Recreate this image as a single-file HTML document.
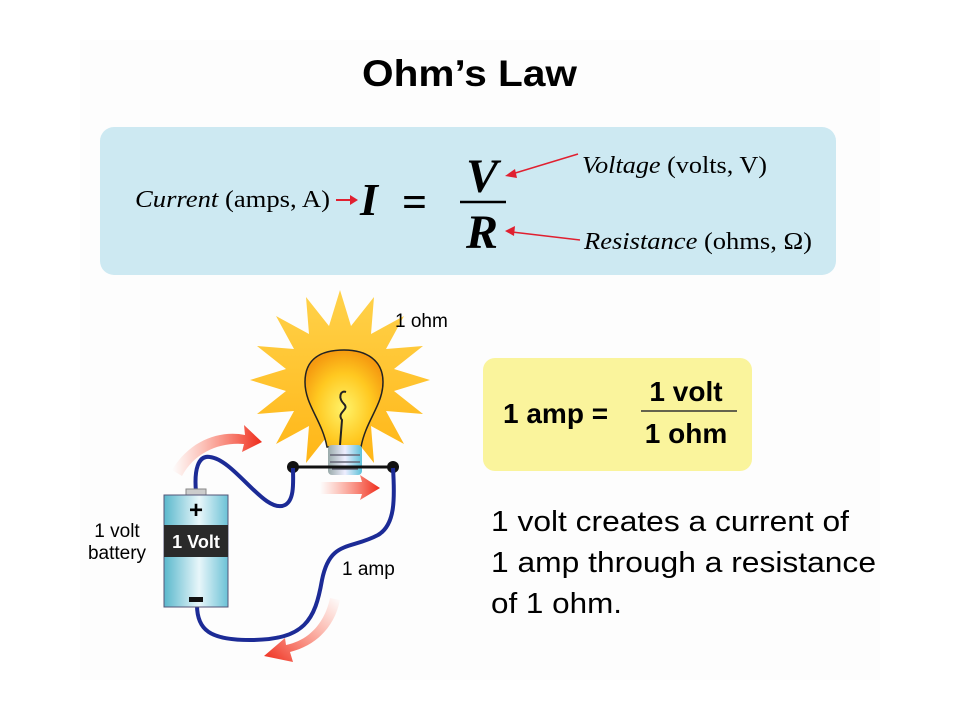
<!DOCTYPE html>
<html><head><meta charset="utf-8"><style>
body{margin:0;background:#fff;}
svg{display:block;font-family:"Liberation Sans",sans-serif;}
.serif{font-family:"Liberation Serif",serif;}
</style></head><body>
<svg width="960" height="720" viewBox="0 0 960 720">
<defs>
<radialGradient id="bulb" cx="0.5" cy="0.6" r="0.6"><stop offset="0" stop-color="#fff36a"/><stop offset="0.6" stop-color="#ffc820"/><stop offset="1" stop-color="#f59a10"/></radialGradient>
<linearGradient id="star" x1="0" y1="0" x2="0" y2="1"><stop offset="0" stop-color="#ffd24a"/><stop offset="1" stop-color="#ffb515"/></linearGradient>
<linearGradient id="bat" x1="0" x2="1"><stop offset="0" stop-color="#5ab8cc"/><stop offset="0.55" stop-color="#e8f6fa"/><stop offset="1" stop-color="#6cc2d6"/></linearGradient>
<linearGradient id="base" x1="0" x2="1"><stop offset="0" stop-color="#9aa"/><stop offset="0.5" stop-color="#eef"/><stop offset="1" stop-color="#5bc0d8"/></linearGradient>
<linearGradient id="ar1" x1="0" x2="1"><stop offset="0" stop-color="#ff6040" stop-opacity="0"/><stop offset="1" stop-color="#ee2a1a"/></linearGradient>
<linearGradient id="ar3" x1="1" y1="0" x2="0" y2="1"><stop offset="0" stop-color="#ff6040" stop-opacity="0"/><stop offset="1" stop-color="#ee2a1a"/></linearGradient>
</defs>
<rect x="80" y="40" width="800" height="640" fill="#fdfdfd"/>
<text x="362" y="86" font-size="37" font-weight="bold" textLength="215" lengthAdjust="spacingAndGlyphs">Ohm’s Law</text>
<rect x="100" y="127" width="736" height="148" rx="14" fill="#cde9f2"/>
<g class="serif">
<text x="135" y="207" font-size="24" textLength="195" lengthAdjust="spacingAndGlyphs"><tspan font-style="italic">Current</tspan> (amps, A)</text>
<line x1="336" y1="200" x2="352" y2="200" stroke="#e02030" stroke-width="2"/><polygon points="358,200 350,195 350,205" fill="#e02030"/>
<text x="360" y="215" font-size="46" font-weight="bold" font-style="italic">I</text>
<text x="402" y="217" font-size="44" font-weight="bold">=</text>
<line x1="460" y1="202" x2="506" y2="202" stroke="#000" stroke-width="2.5"/>
<text x="482" y="192" font-size="48" font-weight="bold" font-style="italic" text-anchor="middle">V</text>
<text x="482" y="248" font-size="48" font-weight="bold" font-style="italic" text-anchor="middle">R</text>
<line x1="512" y1="174" x2="578" y2="154" stroke="#e02030" stroke-width="1.5"/><polygon points="505,176 515,169 517,178" fill="#e02030"/>
<line x1="512" y1="232" x2="580" y2="240" stroke="#e02030" stroke-width="1.5"/><polygon points="505,231 515,226 514,236" fill="#e02030"/>
<text x="582" y="173" font-size="24" textLength="185" lengthAdjust="spacingAndGlyphs"><tspan font-style="italic">Voltage</tspan> (volts, V)</text>
<text x="584" y="249" font-size="24" textLength="228" lengthAdjust="spacingAndGlyphs"><tspan font-style="italic">Resistance</tspan> (ohms, Ω)</text>
</g>
<!-- star -->
<polygon fill="url(#star)" points="430,380 394,369 423,346 386,349 404,316 371,334 374,297 351,326 340,290 329,326 306,297 309,334 276,316 294,349 257,346 286,369 250,380 286,391 257,414 294,411 276,444 309,426 306,463 329,434 340,470 351,434 374,463 371,426 404,444 386,411 423,414 394,391"/>
<path d="M327,447 C322,420 305,405 305,382 C305,358 322,350 344,350 C366,350 383,360 383,382 C383,405 366,420 361,447 Z" fill="url(#bulb)" stroke="#222" stroke-width="1.5"/>
<path d="M340,445 L342,420 C336,412 350,410 344,404 C338,398 340,390 346,392" fill="none" stroke="#222" stroke-width="2"/>
<rect x="328" y="445" width="34" height="30" rx="4" fill="url(#base)"/>
<g stroke="#667" stroke-width="1.5"><line x1="330" y1="455" x2="360" y2="455"/><line x1="330" y1="462" x2="360" y2="462"/><line x1="332" y1="469" x2="358" y2="469"/></g>
<line x1="293" y1="467" x2="393" y2="467" stroke="#111" stroke-width="3"/>
<circle cx="293" cy="467" r="6" fill="#111"/><circle cx="393" cy="467" r="6" fill="#111"/>
<!-- wire -->
<path d="M196,492 C194,470 198,455 210,457 C235,460 265,515 285,505 C295,500 293,480 293,468" fill="none" stroke="#1c2b96" stroke-width="4"/>
<path d="M393,468 C395,500 395,525 378,535 C350,550 330,540 322,580 C315,620 305,640 250,640 C210,640 197,630 197,605" fill="none" stroke="#1c2b96" stroke-width="4"/>
<!-- battery -->
<rect x="186" y="489" width="20" height="6" fill="#ccc" stroke="#888"/>
<rect x="164" y="495" width="64" height="112" fill="url(#bat)" stroke="#557" stroke-width="1"/>
<rect x="164" y="525" width="64" height="32" fill="#2a2a2a"/>
<text x="196" y="548" font-size="18" font-weight="bold" fill="#fff" text-anchor="middle">1 Volt</text>
<text x="196" y="518" font-size="24" font-weight="bold" text-anchor="middle">+</text>
<rect x="189" y="597" width="14" height="5" fill="#111"/>
<!-- red arrows -->
<path d="M172,470 C190,440 220,430 245,435 L244,425 L262,442 L242,452 L244,444 C220,442 195,452 182,476 Z" fill="url(#ar1)"/>
<path d="M320,482 L362,482 L360,475 L380,488 L360,500 L362,494 L320,494 Z" fill="url(#ar1)"/>
<path d="M340,600 C335,625 318,645 290,652 L293,662 L264,656 L285,638 L286,645 C310,640 325,622 330,598 Z" fill="url(#ar3)"/>
<text x="395" y="327" font-size="19">1 ohm</text>
<text x="117" y="537" font-size="19" text-anchor="middle">1 volt</text>
<text x="117" y="559" font-size="19" text-anchor="middle">battery</text>
<text x="342" y="575" font-size="19">1 amp</text>
<!-- yellow box -->
<rect x="483" y="358" width="269" height="113" rx="12" fill="#faf49c"/>
<g font-weight="bold" font-size="28">
<text x="503" y="423">1 amp =</text>
<text x="686" y="401" text-anchor="middle">1 volt</text>
<text x="686" y="443" text-anchor="middle">1 ohm</text>
</g>
<line x1="641" y1="411" x2="737" y2="411" stroke="#333" stroke-width="1.5"/>
<g font-size="29">
<text x="491" y="531" textLength="358" lengthAdjust="spacingAndGlyphs">1 volt creates a current of</text>
<text x="491" y="572" textLength="385" lengthAdjust="spacingAndGlyphs">1 amp through a resistance</text>
<text x="491" y="613" textLength="131" lengthAdjust="spacingAndGlyphs">of 1 ohm.</text>
</g>
</svg>
</body></html>
